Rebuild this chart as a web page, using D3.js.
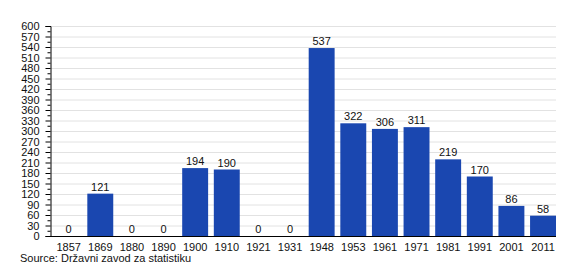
<!DOCTYPE html>
<html>
<head>
<meta charset="utf-8">
<script src="https://cdn.jsdelivr.net/npm/d3@7"></script>
<style>
  body { margin: 0; background: #fff; }
  text { font-family: "Liberation Sans", Arial, sans-serif; }
</style>
</head>
<body>
<div id="chart"></div>
<script>
// census years and population
var years = ["1857", "1869", "1880", "1890", "1900", "1910", "1921", "1931",
  "1948", "1953", "1961", "1971", "1981", "1991", "2001", "2011"];
var population = [0, 121, 0, 0, 194, 190, 0, 0, 537, 322, 306, 311, 219, 170, 86, 58];
var yTicks = d3.range(0, 601, 30);
var yMinorTicks = d3.range(15, 600, 30);
var source = "Source: Državni zavod za statistiku";

var margin = { top: 26, right: 24, bottom: 44, left: 50 },
  width = 580 - margin.left - margin.right,
  height = 280 - margin.top - margin.bottom;

var svg = d3.select("#chart")
  .append("svg")
  .attr("width", 580)
  .attr("height", 280);

var g = svg.append("g")
  .attr("transform", "translate(" + margin.left + "," + margin.top + ")");

var x = d3.scaleBand()
  .domain(years)
  .range([0, width])
  .paddingInner(0.18)
  .paddingOuter(0.09)
  .align(1);

var y = d3.scaleLinear()
  .domain([0, 600])
  .range([height, 0]);

// gridlines
g.selectAll(".grid")
  .data(yTicks.slice(1))
  .enter().append("line")
  .attr("x1", 0)
  .attr("x2", width)
  .attr("y1", function (d) { return y(d) + 0.5; })
  .attr("y2", function (d) { return y(d) + 0.5; })
  .attr("stroke", "#e2e2e2")
  .attr("stroke-width", 1);

// bars
g.selectAll(".bar")
  .data(population)
  .enter().append("rect")
  .attr("class", "bar")
  .attr("x", function (d, i) { return x(years[i]); })
  .attr("width", x.bandwidth())
  .attr("y", function (d) { return y(d); })
  .attr("height", function (d) { return height - y(d); })
  .attr("fill", "#1a47b0");

// value labels
g.selectAll(".val")
  .data(population)
  .enter().append("text")
  .attr("x", function (d, i) { return x(years[i]) + x.bandwidth() / 2; })
  .attr("y", function (d) { return y(d) - 3; })
  .attr("text-anchor", "middle")
  .style("font-size", "11px")
  .style("fill", "#111")
  .text(function (d) { return d; });

// y axis
var yAxis = g.append("g")
  .attr("transform", "translate(0.5,0)")
  .call(d3.axisLeft(y).tickValues(yTicks).tickSize(5).tickPadding(6).tickFormat(d3.format("d")));
yAxis.select(".domain").attr("stroke", "#000");
yAxis.selectAll("text").style("font-size", "11px").style("fill", "#111")
  .style("font-family", "'Liberation Sans', Arial, sans-serif");

g.append("g")
  .attr("transform", "translate(0.5,0)")
  .call(d3.axisLeft(y).tickValues(yMinorTicks).tickSize(3).tickFormat(""))
  .select(".domain").remove();

// x axis
var xAxis = g.append("g")
  .attr("transform", "translate(0," + (height + 0.5) + ")")
  .call(d3.axisBottom(x).tickSize(0).tickPadding(7));
xAxis.select(".domain").attr("stroke", "#000").attr("d", "M0,0H" + width);
xAxis.selectAll("text").style("font-size", "11px").style("fill", "#111")
  .style("font-family", "'Liberation Sans', Arial, sans-serif");

// source
svg.append("text")
  .attr("x", 20)
  .attr("y", 262)
  .style("font-size", "11px")
  .style("fill", "#111")
  .text(source);
</script>
</body>
</html>
